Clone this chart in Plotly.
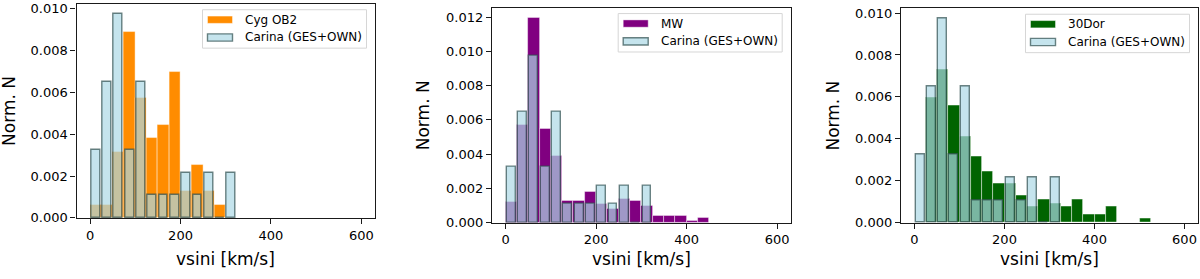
import plotly.graph_objects as go

# ---------------- data (normalised histograms, bin width 25 km/s) ----------------
bin_centers = [12.5, 37.5, 62.5, 87.5, 112.5, 137.5, 162.5, 187.5, 212.5, 237.5,
               262.5, 287.5, 312.5, 337.5, 362.5, 387.5, 412.5, 437.5, 462.5,
               487.5, 512.5]

carina = [0.00324, 0.00649, 0.00973, 0.00324, 0.00649, 0.00108, 0.00108,
          0.00108, 0.00216, 0.00108, 0.00216, 0.0, 0.00216]

cyg_ob2 = [0.00064, 0.00064, 0.00317, 0.00889, 0.00571, 0.00381, 0.00444,
           0.00698, 0.00127, 0.00254, 0.00127, 0.00064]

mw = [0.00124, 0.00573, 0.01195, 0.00547, 0.00391, 0.00125, 0.00125, 0.00182,
      0.00110, 0.00082, 0.00140, 0.00125, 0.00097, 0.00041, 0.00041, 0.00041,
      0.00013, 0.00026]

dor30 = [0.0, 0.00596, 0.00731, 0.00561, 0.00410, 0.00317, 0.00243, 0.00185,
         0.00185, 0.00130, 0.00075, 0.00112, 0.00092, 0.00075, 0.00112, 0.00038,
         0.00038, 0.00075, 0.0, 0.0, 0.00018]

carina_name = "Carina (GES+OWN)"
panels = [
    ("Cyg OB2", cyg_ob2, "#FF8C00", [0, 0.002, 0.004, 0.006, 0.008, 0.010]),
    ("MW", mw, "#800080", [0, 0.002, 0.004, 0.006, 0.008, 0.010, 0.012]),
    ("30Dor", dor30, "#006400", [0, 0.002, 0.004, 0.006, 0.008, 0.010]),
]
x_ticks = [0, 200, 400, 600]
x_title = "vsini [km/s]"
y_title = "Norm. N"

# ---------------- layout geometry (pixels) ----------------
W, H = 1200, 279
plot_boxes = [  # left, right, top, bottom
    (76.5, 375.0, 1.0, 223.7),
    (492.0, 790.7, 5.0, 228.7),
    (901.0, 1198.0, 5.7, 228.7),
]
ytitle_x = [9, 423, 833]
FONT = "DejaVu Sans"

def px(x):
    return x / W

def py(y):
    return 1 - y / H

fig = go.Figure()
shapes = []
annotations = []

carina_fill = "rgba(173,216,230,0.7)"
carina_line = "rgba(47,79,79,0.7)"

for i, (name, vals, color, yt) in enumerate(panels):
    ax = "" if i == 0 else str(i + 1)
    xref, yref = "x" + ax, "y" + ax
    fig.add_trace(go.Bar(
        x=bin_centers[:len(vals)], y=vals, width=25, name=name,
        marker=dict(color=color, line=dict(color="rgba(255,255,255,0.55)", width=0.8)),
        xaxis=xref, yaxis=yref, showlegend=False))
    fig.add_trace(go.Bar(
        x=bin_centers[:len(carina)], y=carina, width=19.5, name=carina_name,
        marker=dict(color=carina_fill, line=dict(color=carina_line, width=1.4)),
        xaxis=xref, yaxis=yref, showlegend=False))

    l, r, t, b = plot_boxes[i]
    ymax = max(max(vals), max(carina)) * 1.05
    axis_common = dict(showline=True, linecolor="#1a1a1a", linewidth=1.2, mirror=True,
                       ticks="outside", ticklen=5, tickwidth=1.2, tickcolor="#1a1a1a",
                       showgrid=False, zeroline=False,
                       tickfont=dict(family=FONT, size=13, color="black"))
    fig.update_layout(**{
        "xaxis" + ax: dict(domain=[px(l), px(r)], range=[-30, 630], tickvals=x_ticks,
                           anchor=yref, **axis_common),
        "yaxis" + ax: dict(domain=[py(b), py(t)], range=[0, ymax], tickvals=yt,
                           tickformat=".3f", anchor=xref, **axis_common),
    })

    # axis titles
    annotations.append(dict(text=x_title, x=px((l + r) / 2), y=py(266), xref="paper",
                            yref="paper", showarrow=False, xanchor="center", yanchor="middle",
                            font=dict(family=FONT, size=17, color="black")))
    annotations.append(dict(text=y_title, x=px(ytitle_x[i]), y=py((t + b) / 2), xref="paper",
                            yref="paper", showarrow=False, xanchor="center", yanchor="middle",
                            textangle=-90, font=dict(family=FONT, size=17, color="black")))

    # legend (matplotlib style)
    bx1 = r - 8.5
    bx0 = bx1 - 164
    by0 = t + 6
    by1 = by0 + 40
    shapes.append(dict(type="rect", xref="paper", yref="paper", x0=px(bx0), x1=px(bx1),
                       y0=py(by1), y1=py(by0), fillcolor="rgba(255,255,255,0.8)",
                       line=dict(color="#d6d6d6", width=1), layer="above"))
    entries = [(name, color, "rgba(255,255,255,0.55)", 0.8),
               (carina_name, carina_fill, carina_line, 1.4)]
    for j, (lab, fc, lc, lw) in enumerate(entries):
        cy = by0 + 10.4 + j * 18.5
        shapes.append(dict(type="rect", xref="paper", yref="paper", x0=px(bx0 + 5),
                           x1=px(bx0 + 30), y0=py(cy + 3.8), y1=py(cy - 3.8),
                           fillcolor=fc, line=dict(color=lc, width=lw), layer="above"))
        annotations.append(dict(text=lab, x=px(bx0 + 40.5), y=py(cy), xref="paper",
                                yref="paper", showarrow=False, xanchor="left",
                                yanchor="middle",
                                font=dict(family=FONT, size=12, color="black")))

fig.update_layout(width=W, height=H, margin=dict(l=0, r=0, t=0, b=0),
                  barmode="overlay", bargap=0, plot_bgcolor="white", paper_bgcolor="white",
                  shapes=shapes, annotations=annotations, showlegend=False,
                  font=dict(family=FONT, color="black"))

fig.write_html("out.html",
               config={"displayModeBar": False},
               post_script="document.body.style.margin='0px';document.body.style.padding='0px';"
                           "document.body.style.overflow='hidden';")
